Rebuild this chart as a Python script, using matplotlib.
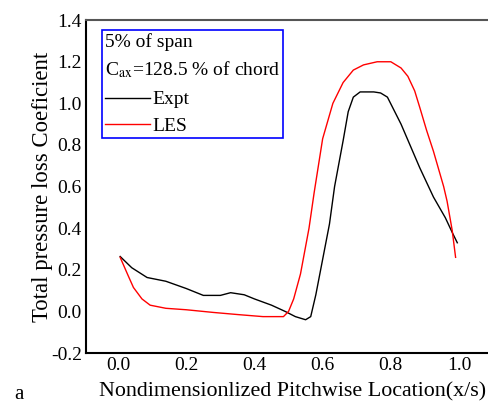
import numpy as np
import matplotlib
matplotlib.use('Agg')
import matplotlib.pyplot as plt

plt.rcParams['font.family'] = ['Liberation Serif', 'DejaVu Serif']
plt.rcParams['mathtext.fontset'] = 'stix'

# Expt curve
expt_x = [0.006, 0.04, 0.085, 0.14, 0.20, 0.25, 0.30, 0.33, 0.37, 0.40, 0.45, 0.49, 0.52, 0.55,
          0.565, 0.58, 0.60, 0.62, 0.635, 0.66, 0.675, 0.69, 0.71, 0.75, 0.77, 0.79, 0.83, 0.885, 0.925, 0.96, 0.98, 0.995]
expt_y = [0.264, 0.21, 0.163, 0.145, 0.11, 0.077, 0.077, 0.09, 0.08, 0.06, 0.03, 0.0, -0.025, -0.04,
          -0.025, 0.08, 0.25, 0.42, 0.60, 0.82, 0.96, 1.03, 1.055, 1.055, 1.05, 1.03, 0.90, 0.69, 0.55, 0.45, 0.38, 0.33]

# LES curve
les_x = [0.006, 0.03, 0.045, 0.07, 0.094, 0.14, 0.20, 0.28, 0.35, 0.425, 0.485, 0.50, 0.515, 0.535, 0.56,
         0.575, 0.60, 0.63, 0.66, 0.69, 0.72, 0.76, 0.80, 0.83, 0.85, 0.87, 0.885, 0.905, 0.925, 0.955, 0.965, 0.98, 0.99]
les_y = [0.26, 0.17, 0.115, 0.06, 0.03, 0.015, 0.008, -0.005, -0.015, -0.025, -0.025, 0.0, 0.06, 0.18, 0.40,
         0.57, 0.83, 1.0, 1.10, 1.16, 1.185, 1.20, 1.20, 1.17, 1.13, 1.06, 0.98, 0.87, 0.77, 0.60, 0.53, 0.39, 0.26]

xticks = [0.0, 0.2, 0.4, 0.6, 0.8, 1.0]
yticks = [-0.2, 0.0, 0.2, 0.4, 0.6, 0.8, 1.0, 1.2, 1.4]

fig = plt.figure(figsize=(4.89, 4.03), dpi=100)
ax = fig.add_axes([0.176, 0.124, 0.824, 0.826])

ax.plot(expt_x, expt_y, color='black', lw=1.0, label='Expt')
ax.plot(les_x, les_y, color='red', lw=1.0, label='LES')

ax.set_xlim(-0.094, 1.088)
ax.set_ylim(-0.2, 1.4)
ax.set_xticks(xticks)
ax.set_xticklabels(['%.1f' % v for v in xticks])
ax.set_yticks(yticks)
ax.set_yticklabels(['%.1f' % v for v in yticks])
ax.tick_params(length=0, labelsize=14, pad=3)

ax.spines['right'].set_visible(False)
ax.spines['top'].set_color('#555555')
for s in ['left', 'bottom', 'top']:
    ax.spines[s].set_linewidth(1.5)

ax.set_xlabel('Nondimensionlized Pitchwise Location(x/s)', fontsize=15.8, labelpad=6)
ax.xaxis.label.set_x(0.513)
ax.set_ylabel('Total pressure loss Coeficient', fontsize=16.4)
ax.yaxis.set_label_coords(-0.082, 0.5)

leg = ax.legend(title='5% of span\nC$_{\\mathrm{ax}}$=128.5 % of chord', loc='upper left',
                bbox_to_anchor=(0.04, 0.97), fontsize=14, title_fontsize=14,
                fancybox=False, framealpha=1, edgecolor='blue', handlelength=2.3,
                handletextpad=0.15, borderpad=0.15, labelspacing=0.45, borderaxespad=0)
leg._legend_box.align = 'left'
leg._legend_box.sep = 8
leg.get_frame().set_linewidth(1.2)
leg.get_title().set_linespacing(1.5)

fig.text(0.03, 0.01, 'a', fontsize=15)

fig.savefig('out.png', dpi=100)
